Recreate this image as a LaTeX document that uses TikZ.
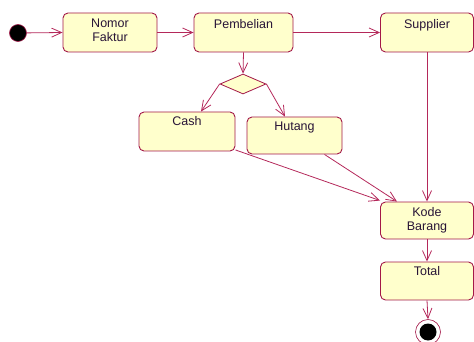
\documentclass[tikz,border=0pt]{standalone}
\usepackage{fontspec}
\setmainfont{Liberation Sans}
\usetikzlibrary{arrows.meta,shapes.geometric,calc}
\definecolor{umlborder}{RGB}{163,24,72}
\definecolor{umlline}{RGB}{180,40,90}
\definecolor{umlfill}{RGB}{255,255,204}
\definecolor{umltext}{RGB}{40,20,55}
\tikzset{
  actbox/.style={draw=umlborder, fill=umlfill, rounded corners=5pt, line width=0.9pt,
    minimum width=#1, inner sep=0pt},
  acttext/.style={font=\fontsize{12.5}{14}\selectfont, text=umltext, align=center,
    inner sep=0pt},
  flow/.style={draw=umlline, line width=0.8pt, -{Straight Barb[length=10pt,width=9pt]}},
}
\begin{document}
\begin{tikzpicture}[x=1pt,y=-1pt]
\useasboundingbox (0,0) rectangle (474,342);
% start
\node[circle, fill=black, draw=umlborder, line width=0.6pt, minimum size=17pt, inner sep=0pt] (start) at (18,33) {};
% boxes
\node[actbox=94pt, minimum height=39pt] (nf) at (110,32.5) {};
\node[acttext, anchor=north] (nft) at ([yshift=-6.5]nf.north) {Nomor\\Faktur};
\node[actbox=99pt, minimum height=39pt] (pb) at (243.5,32.5) {};
\node[acttext, anchor=north] (pbt) at ([yshift=-6.5]pb.north) {Pembelian};
\node[actbox=93pt, minimum height=39pt] (sp) at (427,32.5) {};
\node[acttext, anchor=north] (spt) at ([yshift=-6.5]sp.north) {Supplier};
\node[diamond, aspect=2.3, draw=umlborder, fill=umlfill, line width=0.8pt, minimum width=46pt, minimum height=20pt, inner sep=0pt] (dec) at (243,84) {};
\node[actbox=96pt, minimum height=39pt] (cash) at (187,131.5) {};
\node[acttext, anchor=north] (casht) at ([yshift=-5]cash.north) {Cash};
\node[actbox=95pt, minimum height=37pt] (hut) at (294.5,135.5) {};
\node[acttext, anchor=north] (hutt) at ([yshift=-5]hut.north) {Hutang};
\node[actbox=93pt, minimum height=37pt] (kb) at (427,220.5) {};
\node[acttext, anchor=north] (kbt) at ([yshift=-5.5]kb.north) {Kode\\Barang};
\node[actbox=93pt, minimum height=38pt] (tot) at (427,281) {};
\node[acttext, anchor=north] (tott) at ([yshift=-5]tot.north) {Total};
% end
\node[circle, draw=umlborder, fill=white, line width=0.6pt, minimum size=25pt, inner sep=0pt] (fin) at (428,332) {};
\node[circle, fill=black, minimum size=17pt, inner sep=0pt] (fini) at (fin.center) {};
% flows
\draw[flow] (start) -- (nf.west);
\draw[flow] (nf.east) -- (pb.west);
\draw[flow] (pb.east) -- (sp.west);
\draw[flow] (pb.south) -- (dec.north);
\draw[flow] (dec.west) -- ([xshift=14]cash.north);
\draw[flow] (dec.east) -- ([xshift=-9.5]hut.north);
\draw[flow] (sp.south) -- (kb.north);
\draw[flow] ([yshift=1.5]cash.south east) -- ([yshift=1]kb.north west);
\draw[flow] ([xshift=30]hut.south) -- ([xshift=-30]kb.north);
\draw[flow] (kb.south) -- (tot.north);
\draw[flow] (tot.south) -- (fin.north);
\end{tikzpicture}
\end{document}
